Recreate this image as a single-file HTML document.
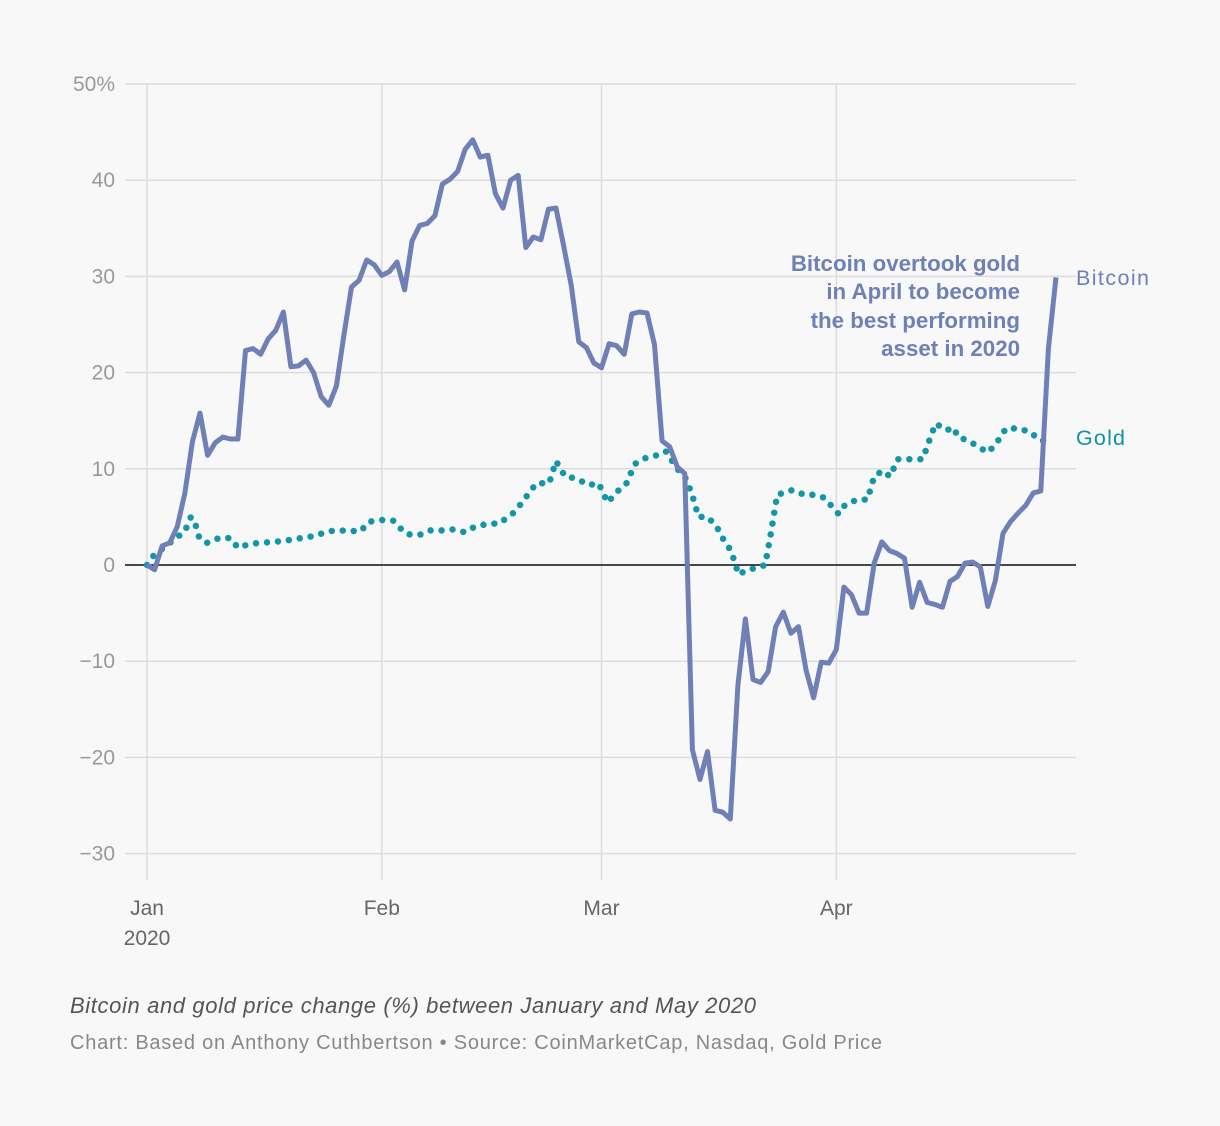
<!DOCTYPE html>
<html><head><meta charset="utf-8"><style>
html,body{margin:0;padding:0;background:#f8f8f8;}
svg{display:block;font-family:"Liberation Sans",sans-serif;}
</style></head><body>
<svg id="chart" width="1220" height="1126" viewBox="0 0 1220 1126">
<rect width="1220" height="1126" fill="#f8f8f8"/>
<g id="grid"></g>
<g id="yticks"></g>
<g id="xticks"></g>
<g id="series"></g>
<g fill="#6f80b6" font-weight="bold" font-size="22.3" text-anchor="end">
<text x="1020" y="271">Bitcoin overtook gold</text>
<text x="1020" y="299">in April to become</text>
<text x="1020" y="328">the best performing</text>
<text x="1020" y="356">asset in 2020</text>
</g>
<text x="1076" y="285" font-size="21.5" fill="#6f80b6" textLength="73">Bitcoin</text>
<text x="1076" y="445" font-size="21.5" fill="#1093a6" textLength="49">Gold</text>
<text x="70" y="1013" font-size="22" font-style="italic" fill="#555" textLength="686">Bitcoin and gold price change (%) between January and May 2020</text>
<text x="70" y="1049" font-size="20" fill="#888" textLength="812">Chart: Based on Anthony Cuthbertson • Source: CoinMarketCap, Nasdaq, Gold Price</text>
</svg>
<script>
const yTicks=[50,40,30,20,10,0,-10,-20,-30];
const yTickLabels=["50%","40","30","20","10","0","−10","−20","−30"];
const monthDays=[0,31,60,91];
const monthLabels=["Jan","Feb","Mar","Apr"];
const bitcoinValues=[0,-0.5,2,2.3,4,7.5,12.8,15.8,11.4,12.7,13.3,13.1,13.1,22.3,22.5,21.9,23.5,24.4,26.3,20.6,20.7,21.3,20,17.5,16.6,18.6,23.9,28.9,29.6,31.7,31.2,30.1,30.5,31.5,28.6,33.7,35.3,35.5,36.3,39.6,40.1,40.9,43.2,44.2,42.4,42.6,38.6,37.1,40,40.5,33,34.1,33.8,37,37.1,33.2,29.1,23.2,22.6,21,20.5,23,22.8,21.9,26.1,26.3,26.2,22.9,12.9,12.3,10.2,9.5,-19.2,-22.3,-19.4,-25.5,-25.7,-26.4,-12.5,-5.6,-11.9,-12.2,-11.1,-6.4,-4.9,-7.1,-6.4,-10.9,-13.8,-10.1,-10.2,-8.8,-2.3,-3.1,-5,-5,0.2,2.4,1.5,1.2,0.7,-4.4,-1.8,-3.9,-4.1,-4.4,-1.7,-1.2,0.2,0.3,-0.2,-4.3,-1.6,3.3,4.5,5.4,6.2,7.5,7.7,22.5,29.9];
const goldDays=[0,0.9,3,5,5.8,6.5,6.9,7.9,9.5,11,12,13.6,15,18,20.3,22,24,25.2,28.2,29.3,31.3,32.5,33.2,34.3,35.9,37.4,39.2,40.4,42,43.3,45.2,46.5,48.5,49.5,51.4,53.1,54,55.2,56.7,58.3,59.6,60.8,62.3,63.3,64.4,66,67.9,68.5,70,71.1,71.9,72.8,74,75.2,76.2,77.1,78.1,79.2,80.5,81.6,82.3,83.2,85.2,86.8,88.1,89.4,91.3,92.2,93.8,95.1,96,97.1,98.1,99.1,100.8,102.4,103.3,104.1,105.6,106.4,107.2,108.3,109.7,111,112,113.4,115,116.7,117.7,119.3];
const goldValues=[0,1,2.3,3.5,5,4,2.8,2.3,2.8,2.8,1.8,2.2,2.3,2.5,2.8,3,3.5,3.6,3.5,4.5,4.7,4.6,4,3.2,3.1,3.6,3.6,3.7,3.4,4,4.3,4.3,5.5,6.5,8.5,8.5,10.8,9.2,9,8.3,8.5,6.5,7.8,8.5,10.5,11.2,11.5,11.8,10,9,7.5,5,5,4,2.5,1.5,-1,-0.5,-0.3,0,3,7.3,7.8,7.3,7.3,7,5.3,6.3,6.8,6.8,9.2,9.8,9.2,11,11,11,13,14.7,14,14.3,13.2,13,12.3,11.7,12.5,14.2,14.2,13.8,13,12.8];

const NS="http://www.w3.org/2000/svg";
function X(d){return 147+d*(1056-147)/120;}
function Y(v){return 565-v*(565-84)/50;}
function mk(tag,attrs,parent){const e=document.createElementNS(NS,tag);for(const k in attrs)e.setAttribute(k,attrs[k]);parent.appendChild(e);return e;}
const grid=document.getElementById('grid'),yt=document.getElementById('yticks'),xt=document.getElementById('xticks'),ser=document.getElementById('series');
yTicks.forEach((v,i)=>{
  const l=mk('line',{x1:125,x2:1076,y1:Y(v),y2:Y(v),stroke:'#dcdcdc','stroke-width':1.5},grid);
  
  
  const t=mk('text',{x:115,y:Y(v)+7,'text-anchor':'end','font-size':21,fill:'#999'},yt);
  t.textContent=yTickLabels[i];
  
  
});
monthDays.forEach((d,i)=>{
  const l=mk('line',{x1:X(d),x2:X(d),y1:84,y2:880,stroke:'#dcdcdc','stroke-width':1.5},grid);
  
  
  const t=mk('text',{x:X(d),y:915,'text-anchor':'middle','font-size':21,fill:'#666'},xt);
  t.textContent=monthLabels[i];
  
  
});
const yr=mk('text',{x:X(0),y:945,'text-anchor':'middle','font-size':21,fill:'#666'},xt);
yr.textContent='2020';


const z=mk('line',{x1:125,x2:1076,y1:Y(0),y2:Y(0),stroke:'#111','stroke-width':1.5},grid);


const gp=mk('path',{d:goldDays.map((d,i)=>(i?'L':'M')+X(d).toFixed(1)+' '+Y(goldValues[i]).toFixed(1)).join(''),fill:'none',stroke:'#1396a6','stroke-width':6.5,'stroke-linecap':'round','stroke-dasharray':'0 11'},ser);


const bp=mk('path',{d:bitcoinValues.map((v,i)=>(i?'L':'M')+X(i).toFixed(1)+' '+Y(v).toFixed(1)).join(''),fill:'none',stroke:'#6f80b6','stroke-width':5,'stroke-linejoin':'round'},ser);


</script>
</body></html>
